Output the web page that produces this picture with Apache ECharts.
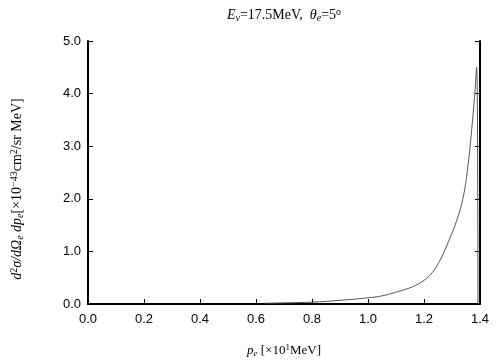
<!DOCTYPE html>
<html>
<head>
<meta charset="utf-8">
<script src="https://cdn.jsdelivr.net/npm/echarts@6/dist/echarts.min.js"></script>
<style>
  html, body { margin: 0; padding: 0; background: #fff; }
  #main { width: 504px; height: 360px; }
</style>
</head>
<body>
<div id="main"></div>
<script>
var myChart = echarts.init(document.getElementById('main'));

// electron momentum p_e [x10 MeV] and cross section [x10^-43 cm^2/sr MeV]
var pe = [0.632, 0.70, 0.80, 0.90, 1.00, 1.05, 1.11, 1.16, 1.20, 1.23, 1.26, 1.29, 1.317, 1.34, 1.358, 1.37, 1.38, 1.388, 1.3925];
var xsec = [0.015, 0.022, 0.035, 0.07, 0.118, 0.155, 0.24, 0.33, 0.45, 0.60, 0.86, 1.22, 1.59, 2.03, 2.67, 3.30, 3.90, 4.50, 0];
var xTicks = [0, 0.2, 0.4, 0.6, 0.8, 1.0, 1.2, 1.4];
var yTicks = [0, 1, 2, 3, 4, 5];

var serif = '"Liberation Serif", "DejaVu Serif", serif';
var sans = '"Liberation Sans", Arial, sans-serif';

var data = [];
for (var i = 0; i < pe.length; i++) {
    data.push([pe[i], xsec[i]]);
}

function mathRich(size) {
    var small = Math.round(size * 0.7);
    return {
        i: { fontFamily: serif, fontStyle: 'italic', fontSize: size, color: '#000' },
        r: { fontFamily: serif, fontSize: size, color: '#000' },
        sub: { fontFamily: serif, fontStyle: 'italic', fontSize: small, color: '#000', verticalAlign: 'bottom', padding: [6, 0, 0, 0] },
        sup: { fontFamily: serif, fontSize: small, color: '#000', verticalAlign: 'top', padding: [0, 0, 5, 0] }
    };
}

option = {
    animation: false,
    backgroundColor: '#fff',
    grid: { left: 88, right: 24, top: 41, bottom: 56 },
    graphic: [
        {
            type: 'text',
            x: 284,
            y: 15,
            style: {
                text: '{i|E}{sub|ν}{r|=17.5MeV,  }{i|θ}{sub|e}{r|=5}{sup|o}',
                rich: mathRich(14),
                align: 'center',
                verticalAlign: 'middle'
            }
        },
        {
            type: 'text',
            x: 17,
            y: 189,
            rotation: Math.PI / 2,
            style: {
                text: '{i|d}{sup|2}{i|σ/dΩ}{sub|e}{i| dp}{sub|e}{r|[×10}{sup|−43}{r|cm}{sup|2}{r|/sr MeV]}',
                rich: mathRich(14),
                align: 'center',
                verticalAlign: 'middle'
            }
        },
        {
            type: 'text',
            x: 284,
            y: 351,
            style: {
                text: '{i|p}{sub|e}{r| [×10}{sup|1}{r|MeV]}',
                rich: mathRich(13),
                align: 'center',
                verticalAlign: 'middle'
            }
        }
    ],
    xAxis: {
        type: 'value',
        min: 0,
        max: 1.4,
        interval: 0.2,
        axisLine: { lineStyle: { color: '#000', width: 2 } },
        axisTick: { inside: true, length: 5, lineStyle: { color: '#000' } },
        axisLabel: {
            color: '#000', fontFamily: sans, fontSize: 13, margin: 9,
            formatter: function (v) { return v.toFixed(1); }
        },
        splitLine: { show: false }
    },
    yAxis: [
        {
            type: 'value',
            min: 0,
            max: 5,
            interval: 1,
            axisLine: { show: true, lineStyle: { color: '#000', width: 2 } },
            axisTick: { show: true, inside: true, length: 5, lineStyle: { color: '#000' } },
            axisLabel: {
                color: '#000', fontFamily: sans, fontSize: 13, margin: 7,
                formatter: function (v) { return v.toFixed(1); }
            },
            splitLine: { show: false }
        },
        {
            type: 'value',
            position: 'right',
            min: 0,
            max: 5,
            interval: 1,
            axisLine: { show: true, lineStyle: { color: '#000', width: 2 } },
            axisTick: { show: true, inside: true, length: 5, lineStyle: { color: '#000' } },
            axisLabel: { show: false },
            splitLine: { show: false }
        }
    ],
    series: [{
        type: 'line',
        data: data,
        showSymbol: false,
        smooth: 0.4,
        lineStyle: { color: '#555', width: 1 }
    }]
};

myChart.setOption(option);
</script>
</body>
</html>
